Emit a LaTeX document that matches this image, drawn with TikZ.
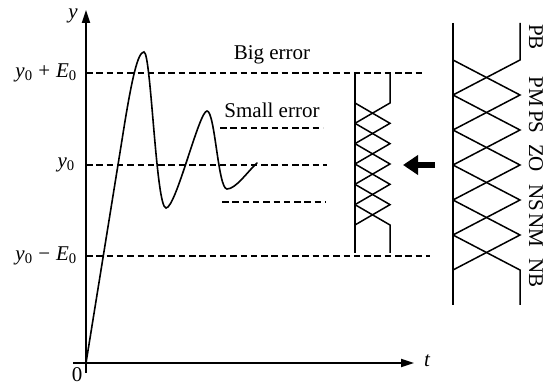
\documentclass[tikz,border=0pt]{standalone}
\usepackage{fontspec}
\setmainfont{Liberation Serif}
\usepackage{tikz}
\usetikzlibrary{arrows.meta, positioning}

\begin{document}
\begin{tikzpicture}[
  x=1pt, y=-1pt,
  %%── Styles ───────────────────────────────────────────────────────────────
  axis/.style={line width=1.8pt, -{Triangle[length=13pt,width=8pt]}},
  level/.style={line width=1.2pt, dash pattern=on 6.5pt off 3.8pt},
  mfline/.style={line width=1.5pt, line join=miter},
  resp/.style={line width=1.6pt, line cap=round},
  lbl/.style={font=\fontsize{21}{25}\selectfont, inner sep=0pt},
  setlbl/.style={lbl, rotate=-90},
  bigarrow/.style={line width=6pt, -{Triangle[length=15pt,width=19pt]}},
]
\useasboundingbox (0,0) rectangle (547,387);

%%── Axes (origin at 86,363) ─────────────────────────────────────────────
\coordinate (O)     at (86,363);
\coordinate (ybot)  at (86,373);
\coordinate (ytop)  at (86,10);
\coordinate (xbeg)  at (73,363);
\coordinate (xend)  at (414,363);
\draw[axis] (ybot) -- (ytop);
\draw[axis] (xbeg) -- (xend);
\node[lbl, font=\fontsize{21}{25}\itshape] (ylab) at (73,16) {y};
\node[lbl, font=\fontsize{21}{25}\itshape] (tlab) at (427,361) {t};
\node[lbl] (zero) at (77,375) {0};

%%── Error bands (dashed levels) ─────────────────────────────────────────
\node[lbl, anchor=east] (yplus)  at (77,73)
  {\textit{y}\textsubscript{0}\;+\;\textit{E}\textsubscript{0}};
\node[lbl, anchor=east] (yzero)  at (75,165) {\textit{y}\textsubscript{0}};
\node[lbl, anchor=east] (yminus) at (77,256)
  {\textit{y}\textsubscript{0}\;−\;\textit{E}\textsubscript{0}};

\draw[level] (86,73)  -- (422,73);
\draw[level] (86,165) -- (327,165);
\draw[level] (86,256) -- (430,256);
\draw[level] (220,128) -- (323,128);
\draw[level] (222,202) -- (326,202);

\node[lbl] (bigerr)   at (272,55)  {Big error};
\node[lbl] (smallerr) at (272,110) {Small error};

%%── System response ─────────────────────────────────────────────────────
\draw[resp] (O) -- (122,140)
  .. controls (132,76) and (138,52) .. (144,52)
  .. controls (151,52) and (156,208) .. (166,208)
  .. controls (176,208) and (199,111) .. (207,111)
  .. controls (215,111) and (218,189) .. (227,189)
  .. controls (236,189) and (248,171) .. (257,163);

%%── Small-error membership functions (x: 355..390, peaks 103..225) ─────
\draw[mfline] (355,73) -- (355,253);
\draw[mfline] (390,73) -- (390,103) -- (355,123.33);
\draw[mfline] (390,253) -- (390,225) -- (355,204.67);
\foreach \k in {1,...,5} {
  \draw[mfline] (355,{103+20.33*(\k-1)}) -- (390,{103+20.33*\k})
                -- (355,{103+20.33*(\k+1)});
}

%%── Switching arrow ─────────────────────────────────────────────────────
\coordinate (arrbeg) at (435,165);
\coordinate (arrend) at (403,165);
\draw[bigarrow] (arrbeg) -- (arrend);

%%── Big-error membership functions (x: 453..520, peaks 60..270) ────────
\draw[mfline] (453,23) -- (453,305);
\draw[mfline] (520,23) -- (520,60) -- (453,95);
\draw[mfline] (520,305) -- (520,270) -- (453,235);
\foreach \k in {1,...,5} {
  \draw[mfline] (453,{60+35*(\k-1)}) -- (520,{60+35*\k})
                -- (453,{60+35*(\k+1)});
}
\foreach \name/\ypos in {PB/37, PM/92, PS/122, ZO/158, NS/198, NM/230, NB/273} {
  \node[setlbl] (lbl\name) at (536,\ypos) {\name};
}

\end{tikzpicture}
\end{document}
